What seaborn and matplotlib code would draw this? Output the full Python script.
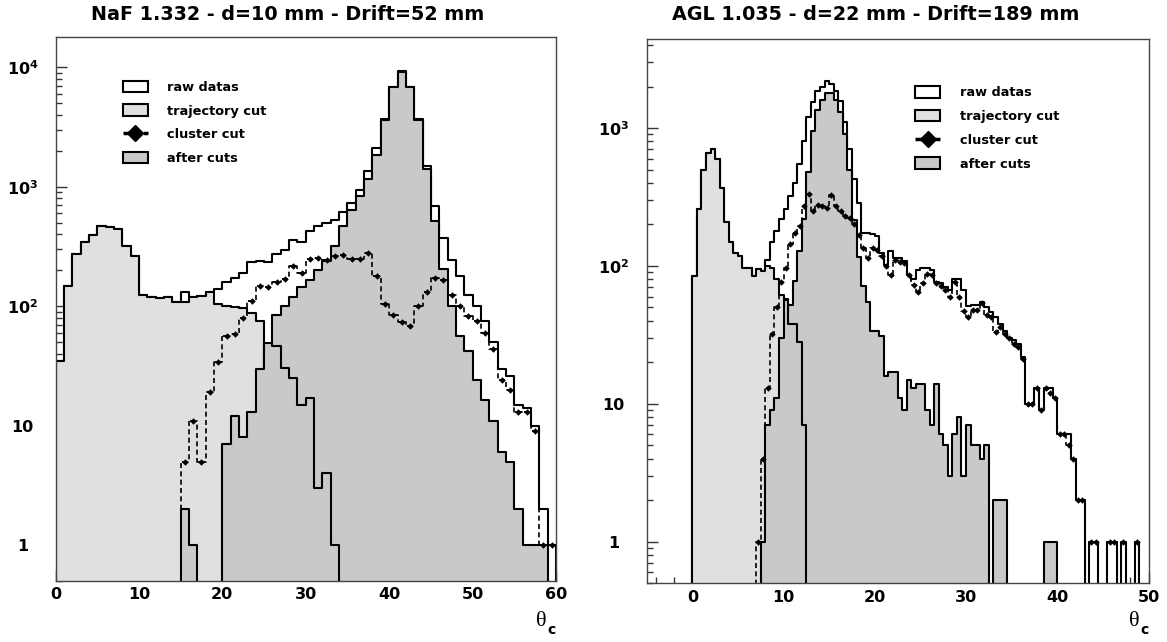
import numpy as np
import pandas as pd
import matplotlib
matplotlib.use("Agg")
import matplotlib.pyplot as plt
import seaborn as sns
from matplotlib.patches import Patch
from matplotlib.lines import Line2D
from matplotlib.ticker import (FixedLocator, FixedFormatter, LogLocator,
                               NullFormatter, MultipleLocator)

# ---------------------------------------------------------------- data
legend_labels = ["raw datas", "trajectory cut", "cluster cut", "after cuts"]

# NaF panel : 60 bins of width 1 starting at 0
naf_title = "NaF 1.332 - d=10 mm - Drift=52 mm"
naf_bin_start, naf_bin_width = 0.0, 1.0
naf_raw = [35, 147, 275, 347, 397, 465, 460, 438, 321, 265,
           124, 120, 118, 120, 108, 131, 120, 122, 132, 138,
           158, 172, 190, 235, 240, 232, 272, 294, 356, 346,
           426, 466, 497, 531, 611, 731, 945, 1346, 2110, 3685,
           6830, 9230, 6830, 3685, 1500, 686, 372, 245, 178, 123,
           101, 75, 50, 30, 26, 15, 14, 10, 2, 1]
naf_traj = [35, 147, 275, 347, 397, 465, 460, 438, 321, 265,
            124, 120, 118, 120, 108, 108, 120, 122, 132, 104,
            100, 98, 97, 88, 75, 0, 0, 0, 0, 0,
            0, 0, 0, 0, 0, 0, 0, 0, 0, 0,
            0, 0, 0, 0, 0, 0, 0, 0, 0, 0,
            0, 0, 0, 0, 0, 0, 0, 0, 0, 0]
naf_after = [0, 0, 0, 0, 0, 0, 0, 0, 0, 0,
             0, 0, 0, 0, 0, 0, 0, 0, 0, 0,
             0, 0, 0, 0, 0, 45, 85, 100, 120, 145,
             165, 200, 240, 320, 470, 640, 830, 1150, 1850, 3650,
             6800, 9200, 6800, 3650, 1400, 514, 205, 100, 56, 42,
             24, 16.5, 11, 6, 5, 2, 1, 1, 1, 0]
naf_after_low = [0, 0, 0, 0, 0, 0, 0, 0, 0, 0,
                 0, 0, 0, 0, 0, 2, 1, 0, 0, 0,
                 7, 12, 8, 13, 29.5, 49.5, 46, 30.5, 25, 15,
                 17, 3, 4, 1, 0, 0, 0, 0, 0, 0,
                 0, 0, 0, 0, 0, 0, 0, 0, 0, 0,
                 0, 0, 0, 0, 0, 0, 0, 0, 0, 0]
naf_cluster = [0, 0, 0, 0, 0, 0, 0, 0, 0, 0,
               0, 0, 0, 0, 0, 5, 11, 5, 19, 34,
               56, 59, 80, 110, 147, 144, 159, 170, 215, 190,
               249, 254, 241, 262, 270, 246, 249, 276, 178, 105,
               84, 74, 68, 101, 131, 173, 167, 125, 100, 82,
               75, 60, 44, 24, 20, 13, 13, 9, 1, 1]

# AGL panel : 100 bins of width 0.5 starting at 0
agl_title = "AGL 1.035 - d=22 mm - Drift=189 mm"
agl_bin_start, agl_bin_width = 0.0, 0.5
agl_raw = [84, 260, 500, 660, 700, 600, 370, 210, 150, 125,
           118, 97, 97, 85, 95, 92, 110, 150, 180, 220,
           260, 320, 400, 550, 800, 1200, 1550, 1850, 2000, 2200,
           2100, 1850, 1560, 1100, 700, 430, 286, 173, 173, 170,
           165, 124, 102, 128, 114, 114, 108, 86, 80, 94,
           97, 97, 94, 77, 75, 70, 67, 80, 80, 67,
           51, 52, 52, 55, 50, 46, 43, 38, 34, 30,
           29, 27, 22, 10, 10, 13, 9, 13, 13, 11,
           6, 6, 6, 4, 2, 2, 0, 1, 1, 0,
           0, 1, 1, 0, 1, 0, 0, 1, 0, 0]
agl_traj = [84, 260, 500, 660, 700, 600, 370, 210, 150, 125,
            118, 97, 97, 85, 95, 92, 100, 96, 80, 62,
            58, 0, 0, 0, 0, 0, 0, 0, 0, 0,
            0, 0, 0, 0, 0, 0, 0, 0, 0, 0,
            0, 0, 0, 0, 0, 0, 0, 0, 0, 0,
            0, 0, 0, 0, 0, 0, 0, 0, 0, 0,
            0, 0, 0, 0, 0, 0, 0, 0, 0, 0,
            0, 0, 0, 0, 0, 0, 0, 0, 0, 0,
            0, 0, 0, 0, 0, 0, 0, 0, 0, 0,
            0, 0, 0, 0, 0, 0, 0, 0, 0, 0]
agl_after = [0, 0, 0, 0, 0, 0, 0, 0, 0, 0,
             0, 0, 0, 0, 0, 0, 0, 0, 0, 0,
             0, 52, 78, 128, 220, 480, 950, 1350, 1600, 1800,
             1800, 1600, 1300, 900, 500, 217, 117, 71, 55, 34,
             34, 31, 16, 17, 17, 11, 9, 15, 13, 14,
             14, 9, 7, 14, 6, 5, 3, 6, 8, 3,
             7, 5, 5, 4, 5, 0, 2, 2, 2, 0,
             0, 0, 0, 0, 0, 0, 0, 1, 1, 1,
             0, 0, 0, 0, 0, 0, 0, 0, 0, 0,
             0, 0, 0, 0, 0, 0, 0, 0, 0, 0]
agl_after_low = [0, 0, 0, 0, 0, 0, 0, 0, 0, 0,
                 0, 0, 0, 0, 0, 1, 7, 9, 11, 30,
                 57, 38, 38, 28, 7, 0, 0, 0, 0, 0,
                 0, 0, 0, 0, 0, 0, 0, 0, 0, 0,
                 0, 0, 0, 0, 0, 0, 0, 0, 0, 0,
                 0, 0, 0, 0, 0, 0, 0, 0, 0, 0,
                 0, 0, 0, 0, 0, 0, 0, 0, 0, 0,
                 0, 0, 0, 0, 0, 0, 0, 0, 0, 0,
                 0, 0, 0, 0, 0, 0, 0, 0, 0, 0,
                 0, 0, 0, 0, 0, 0, 0, 0, 0, 0]
agl_cluster = [0, 0, 0, 0, 0, 0, 0, 0, 0, 0,
               0, 0, 0, 0, 1, 4, 13, 32, 50, 77,
               97, 145, 172, 195, 270, 330, 249, 278, 272, 263,
               329, 270, 249, 230, 221, 200, 169, 135, 114, 135,
               130, 119, 100, 86, 111, 106, 105, 86, 73, 65,
               75, 88, 86, 75, 71, 67, 60, 77, 60, 47,
               43, 48, 48, 54, 44, 43, 33, 36, 32, 30,
               27, 26, 21, 10, 10, 13, 9, 13, 12, 11,
               6, 6, 5, 4, 2, 2, 0, 1, 1, 0,
               0, 1, 1, 0, 1, 0, 0, 1, 0, 0]

naf_yticks = [1, 10, 100, 1000, 10000]
naf_yticklabels = ["1", "10", r"$10^{2}$", r"$10^{3}$", r"$10^{4}$"]
agl_yticks = [1, 10, 100, 1000]
agl_yticklabels = ["1", "10", r"$10^{2}$", r"$10^{3}$"]

# ---------------------------------------------------------------- style
sns.set_theme(style="ticks")
plt.rcParams["font.family"] = ["DejaVu Sans"]
plt.rcParams["font.weight"] = "bold"
plt.rcParams["mathtext.fontset"] = "custom"
plt.rcParams["mathtext.rm"] = "DejaVu Sans:bold"
plt.rcParams["mathtext.bf"] = "DejaVu Sans:bold"
plt.rcParams["mathtext.it"] = "DejaVu Sans:bold:italic"
plt.rcParams["axes.edgecolor"] = "#444444"
plt.rcParams["axes.linewidth"] = 1.0
plt.rcParams["text.color"] = "black"
plt.rcParams["axes.labelcolor"] = "black"
plt.rcParams["xtick.color"] = "black"
plt.rcParams["ytick.color"] = "black"
plt.rcParams["legend.labelcolor"] = "black"

LIGHT = "#e0e0e0"
DARK = "#c9c9c9"
W, H = 1167, 642

fig = plt.figure(figsize=(W / 100, H / 100), dpi=100)


def px_axes(x0, y0, x1, y1):
    return fig.add_axes([x0 / W, 1 - y1 / H, (x1 - x0) / W, (y1 - y0) / H])


ax1 = px_axes(55.5, 37.3, 556.0, 581.0)
ax2 = px_axes(646.7, 39.3, 1148.5, 583.3)


def draw_panel(ax, start, width, raw, traj, after, after_low, cluster,
               xlim, ylim, yticks, yticklabels, leg_px):
    n = len(raw)
    edges = (start + width * np.arange(n + 1)).tolist()
    centers = start + width * (np.arange(n) + 0.5)
    ax.set_yscale("log")
    for vals, fc in [(raw, "white"), (traj, LIGHT), (after, DARK), (after_low, DARK)]:
        df = pd.DataFrame({"theta": centers, "count": np.asarray(vals, dtype=float)})
        sns.histplot(data=df, x="theta", weights="count", bins=edges, element="step",
                     fill=True, facecolor=fc, edgecolor="black", linewidth=1.5,
                     alpha=1.0, ax=ax)
    dfc = pd.DataFrame({"theta": centers, "count": np.asarray(cluster, dtype=float)})
    sns.histplot(data=dfc, x="theta", weights="count", bins=edges, element="step",
                 fill=False, color="black", linestyle=(0, (3, 2)), linewidth=1.2, ax=ax)
    pts = dfc[dfc["count"] > 0]
    ax.errorbar(pts["theta"], pts["count"], xerr=0.38 * width, fmt="none",
                ecolor="black", elinewidth=1.3, capsize=0)
    sns.scatterplot(data=pts, x="theta", y="count", marker="D", s=11, color="black",
                    edgecolor="black", linewidth=0, ax=ax, zorder=5)

    ax.set_xlim(*xlim)
    ax.set_ylim(*ylim)
    ax.set_xlabel("")
    ax.set_ylabel("")
    ax.xaxis.set_major_locator(MultipleLocator(10))
    ax.xaxis.set_minor_locator(MultipleLocator(2))
    ax.yaxis.set_major_locator(FixedLocator(yticks))
    ax.yaxis.set_major_formatter(FixedFormatter(yticklabels))
    ax.yaxis.set_minor_locator(LogLocator(base=10, subs=np.arange(2, 10), numticks=50))
    ax.yaxis.set_minor_formatter(NullFormatter())
    ax.tick_params(which="both", direction="in", color="#333333", labelcolor="black",
                   width=1.0, top=False, right=False)
    ax.tick_params(which="major", length=7.9)
    ax.tick_params(which="minor", length=4.1)
    ax.tick_params(axis="x", labelsize=11.5, pad=4.5)
    ax.tick_params(axis="y", labelsize=11.5, pad=23.8)
    for lab in ax.get_xticklabels() + ax.get_yticklabels():
        lab.set_fontweight("bold")
    for lab in ax.get_yticklabels():
        lab.set_horizontalalignment("center")

    handles = [Patch(facecolor="white", edgecolor="black", linewidth=1.5),
               Patch(facecolor=LIGHT, edgecolor="black", linewidth=1.5),
               Line2D([], [], color="black", linewidth=2.5, linestyle=(0, (2.2, 0.7)),
                      marker="D", markersize=8),
               Patch(facecolor=DARK, edgecolor="black", linewidth=1.5)]
    ax.legend(handles, legend_labels, loc="upper left",
              bbox_to_anchor=(leg_px[0] / W, 1 - leg_px[1] / H),
              bbox_transform=fig.transFigure, frameon=False,
              prop=dict(weight="bold", size=9.3), handlelength=1.95,
              handleheight=1.0, handletextpad=1.5, labelspacing=0.82,
              borderpad=0, borderaxespad=0, labelcolor="black")


draw_panel(ax1, naf_bin_start, naf_bin_width, naf_raw, naf_traj, naf_after,
           naf_after_low, naf_cluster, (0, 60), (0.5, 1.78e4),
           naf_yticks, naf_yticklabels, (122.5, 80.5))
draw_panel(ax2, agl_bin_start, agl_bin_width, agl_raw, agl_traj, agl_after,
           agl_after_low, agl_cluster, (-5, 50), (0.5, 4400),
           agl_yticks, agl_yticklabels, (915.0, 86.0))

# titles (centred on each half of the canvas)
fig.text(288 / W, 1 - 20 / H, naf_title, ha="center", va="baseline", fontsize=13.8,
         fontweight="bold", color="black")
fig.text(876 / W, 1 - 20 / H, agl_title, ha="center", va="baseline", fontsize=13.8,
         fontweight="bold", color="black")

# axis titles theta_c at the right end of each x axis
for xr in (556.0, 1148.5):
    fig.text((xr - 9) / W, 1 - 622 / H, "θ", ha="right", va="center",
             family=["Liberation Serif", "DejaVu Serif"], fontsize=16,
             fontweight="normal", color="black")
    fig.text(xr / W, 1 - 630 / H, "c", ha="right", va="center", fontsize=10,
             fontweight="bold", color="black")

fig.savefig("out.png", dpi=100)
